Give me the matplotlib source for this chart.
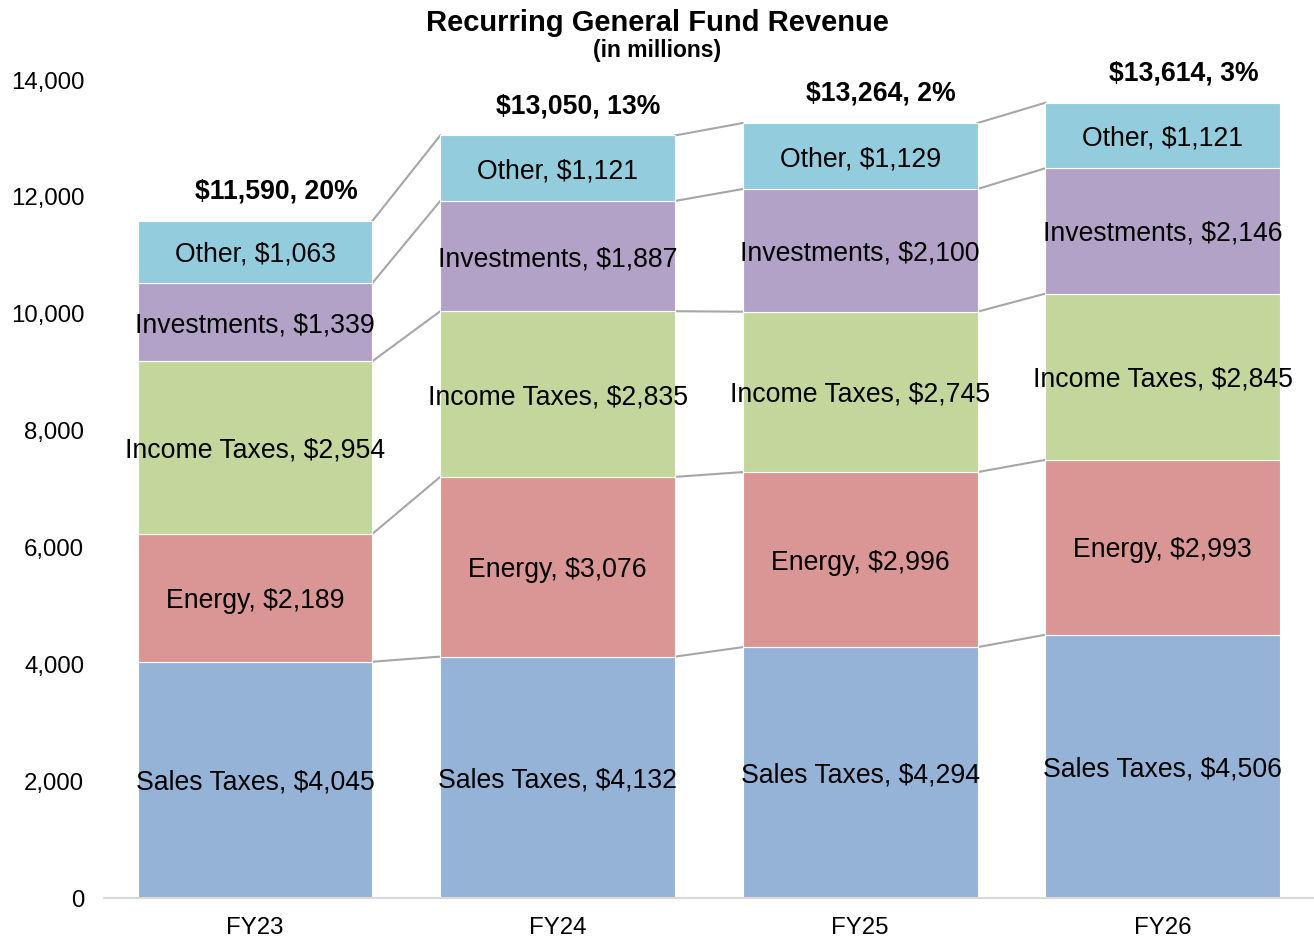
import numpy as np
import matplotlib.pyplot as plt
from matplotlib.ticker import FuncFormatter

plt.rcParams['font.family'] = ['Liberation Sans', 'DejaVu Sans']

# 데이터
years = ['FY23', 'FY24', 'FY25', 'FY26']
categories = ['Sales Taxes', 'Energy', 'Income Taxes', 'Investments', 'Other']
sales_taxes = [4045, 4132, 4294, 4506]
energy = [2189, 3076, 2996, 2993]
income_taxes = [2954, 2835, 2745, 2845]
investments = [1339, 1887, 2100, 2146]
other = [1063, 1121, 1129, 1121]
total_labels = ['$11,590', '$13,050', '$13,264', '$13,614']
growth_pct = [20, 13, 2, 3]

series = [sales_taxes, energy, income_taxes, investments, other]
colors = ['#95B3D7', '#D99694', '#C3D69B', '#B3A2C7', '#93CDDD']

fig = plt.figure(figsize=(13.14, 9.38), dpi=100)
ax = fig.add_axes([0.079, 0.0426, 0.921, 0.8721])

x = np.arange(len(years))
width = 0.776
bottom = np.zeros(len(years))
tops = []
for name, vals, c in zip(categories, series, colors):
    vals = np.array(vals)
    ax.bar(x, vals, width, bottom=bottom, color=c, edgecolor='white', linewidth=0.8, zorder=2)
    for xi, b, v in zip(x, bottom, vals):
        ax.text(xi, b + v / 2, f'{name}, ${v:,}', ha='center', va='center_baseline',
                fontsize=19.2, zorder=4)
    bottom = bottom + vals
    tops.append(bottom.copy())

# 막대 사이 연결선
for level in tops:
    for i in range(len(years) - 1):
        ax.plot([x[i] + width / 2, x[i + 1] - width / 2], [level[i], level[i + 1]],
                color='#A6A6A6', linewidth=1.5, zorder=1)

# 합계 레이블
for xi, top, lab, pct in zip(x, bottom, total_labels, growth_pct):
    ax.annotate(f'{lab}, {pct}%', (xi, top), xytext=(15, 21), textcoords='offset points',
                ha='center', va='center', fontsize=19.2, fontweight='bold')

ax.set_xlim(-0.5, 3.5)
ax.set_ylim(0, 14000)
ax.set_yticks(range(0, 14001, 2000))
ax.yaxis.set_major_formatter(FuncFormatter(lambda v, p: f'{int(v):,}'))
ax.set_xticks(x)
ax.set_xticklabels(years)
ax.tick_params(axis='both', length=0, labelsize=17.3)
ax.tick_params(axis='y', pad=14)
ax.tick_params(axis='x', pad=14)
for s in ['top', 'right', 'left']:
    ax.spines[s].set_visible(False)
ax.spines['bottom'].set_color('#D9D9D9')
ax.spines['bottom'].set_linewidth(1.5)

fig.text(0.5, 0.976, 'Recurring General Fund Revenue', ha='center', va='center',
         fontsize=21, fontweight='bold')
fig.text(0.5, 0.946, '(in millions)', ha='center', va='center',
         fontsize=16.5, fontweight='bold')

plt.savefig('out.png', dpi=100)
